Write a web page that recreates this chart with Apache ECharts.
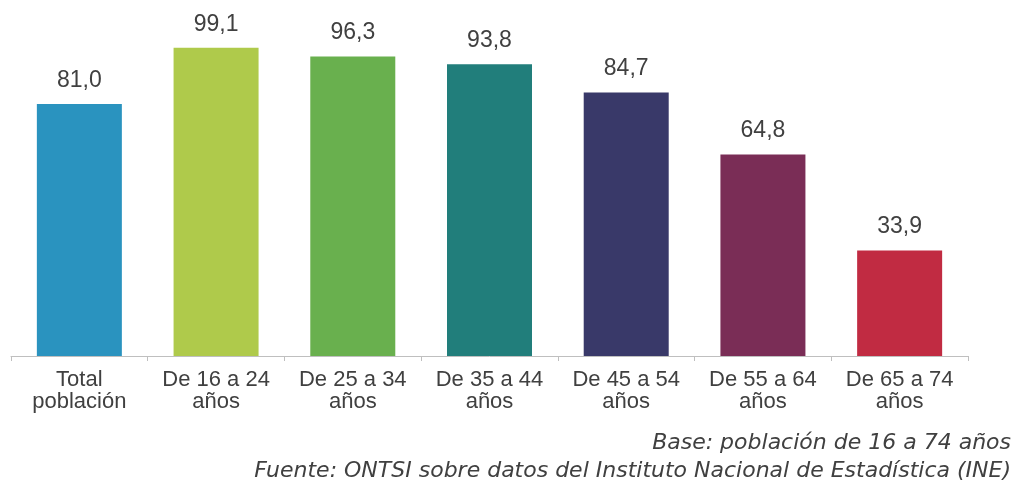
<!DOCTYPE html>
<html><head><meta charset="utf-8">
<script src="https://cdn.jsdelivr.net/npm/echarts@6/dist/echarts.min.js"></script>
<style>html,body{margin:0;padding:0;background:#fff}#c{width:1017px;height:487px}</style>
</head><body><div id="c"></div>
<script>
const categories = ['Total\npoblación', 'De 16 a 24\naños', 'De 25 a 34\naños', 'De 35 a 44\naños', 'De 45 a 54\naños', 'De 55 a 64\naños', 'De 65 a 74\naños'];
const values = [81.0, 99.1, 96.3, 93.8, 84.7, 64.8, 33.9];
const colors = ['#2a93bf', '#afca4b', '#69b04e', '#217e7b', '#393969', '#7a2d56', '#c12b42'];
const footer = ['Base: población de 16 a 74 años', 'Fuente: ONTSI sobre datos del Instituto Nacional de Estadística (INE)'];

const chart = echarts.init(document.getElementById('c'), null, {renderer: 'canvas'});
chart.setOption({
  animation: false,
  grid: {left: 11, right: 49, top: 45, bottom: 131, containLabel: false},
  xAxis: {
    type: 'category', data: categories,
    axisLine: {lineStyle: {color: '#bfbfbf', width: 1}},
    axisTick: {show: true, length: 5, lineStyle: {color: '#bfbfbf'}},
    axisLabel: {color: '#404040', fontFamily: 'Liberation Sans', fontSize: 22, lineHeight: 22, margin: 13, interval: 0}
  },
  yAxis: {type: 'value', min: 0, max: 100, show: false, splitLine: {show: false}},
  series: [{
    type: 'bar', barWidth: 85,
    data: values.map((v, i) => ({value: v, itemStyle: {color: colors[i]}})),
    label: {show: true, position: 'top', distance: 12, color: '#404040', fontFamily: 'Liberation Sans', fontSize: 23,
      formatter: p => p.value.toFixed(1).replace('.', ',')}
  }],
  graphic: [
    {type: 'text', right: 6, top: 432, style: {text: footer[0], font: 'italic 22px "DejaVu Sans"', fill: '#404040', textAlign: 'right'}},
    {type: 'text', right: 6, top: 460, style: {text: footer[1], font: 'italic 22px "DejaVu Sans"', fill: '#404040', textAlign: 'right'}}
  ]
});
</script></body></html>
